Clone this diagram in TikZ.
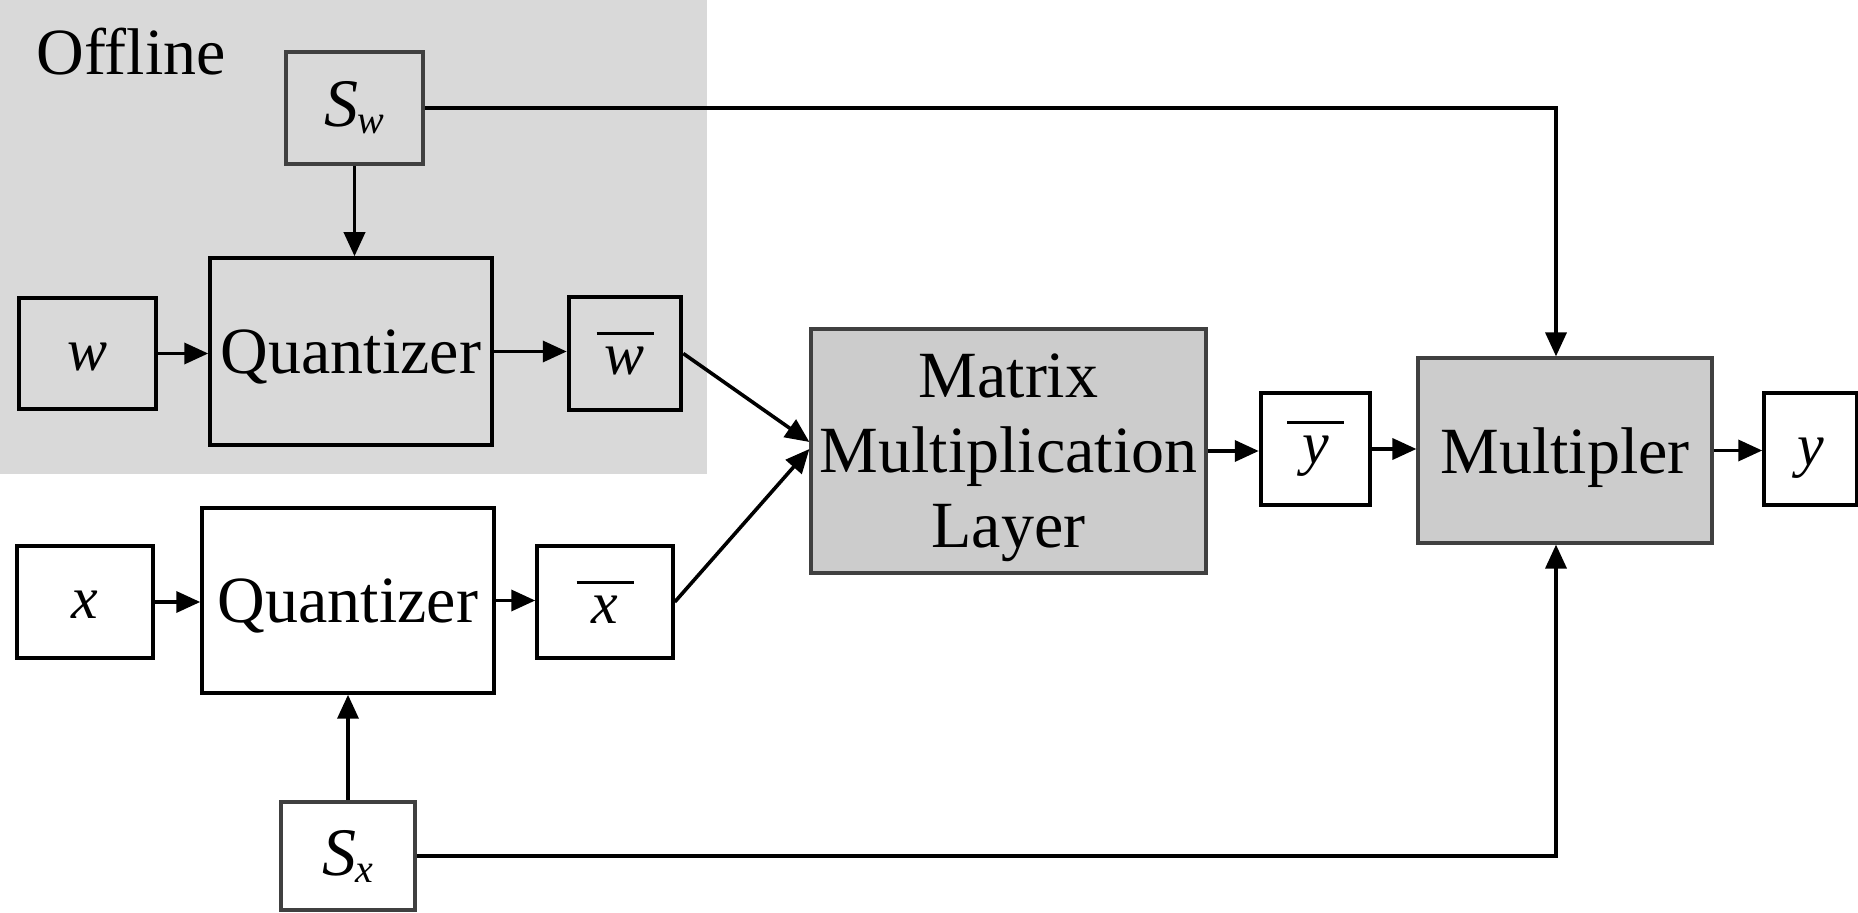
\documentclass[tikz,border=0pt]{standalone}
\usepackage{fontspec}
\setmainfont{Liberation Serif}
\usetikzlibrary{arrows.meta,calc}
\definecolor{dgray}{HTML}{404040}
\definecolor{procfill}{HTML}{CCCCCC}
\definecolor{offbg}{HTML}{D9D9D9}
\newcommand\barred[1]{\vbox{\hrule width 28.5pt height 1.5pt\kern 6pt\hbox to 28.5pt{\hss #1\hss}}}
\newcommand\scl[1]{{\fontsize{34}{36}\selectfont\itshape S\kern-0.5pt\raisebox{-3.5pt}{\fontsize{20}{20}\selectfont #1}}}
\begin{document}
\begin{tikzpicture}[x=0.5pt,y=-0.5pt,
  lbl/.style={font=\fontsize{33}{37.5}\selectfont,text depth=0pt},
  var/.style={font=\fontsize{30}{36}\selectfont\itshape},
  single/.style={text height=16.8pt,text depth=0pt},
  blk/.style={draw=black,line width=1.75pt,inner sep=0pt},
  blkthick/.style={draw=black,line width=2.25pt,inner sep=0pt},
  gblk/.style={draw=dgray,line width=2.25pt,inner sep=0pt},
  proc/.style={draw=dgray,line width=1.6pt,fill=procfill,inner sep=0pt,align=center},
  arr/.style={line width=1.8pt,-{Triangle[length=12pt,width=10.5pt]}},
]
\useasboundingbox (0,0) rectangle (1858,913);
\fill[offbg] (0,0) rectangle (707,474);
\node[lbl,anchor=base west,inner sep=0pt] (off) at (36,75) {Offline};

% boxes
\node[gblk,minimum width=68.5pt,minimum height=56pt] (Sw) at (354.5,108) {\scl{w}};
\node[blk,lbl,minimum width=141pt,minimum height=93.5pt] (Qt) at (351,351.5) {Quantizer};
\node[blk,var,single,minimum width=68.5pt,minimum height=55.5pt] (w) at (87.5,353.5) {w};
\node[blkthick,var,minimum width=56pt,minimum height=56.5pt] (wb) at (625,353.5) {\barred{w}};

\node[blk,lbl,minimum width=146pt,minimum height=92.5pt] (Qb) at (348,600.5) {Quantizer};
\node[blk,var,single,minimum width=68pt,minimum height=56pt] (x) at (85,602) {x};
\node[blk,var,minimum width=68pt,minimum height=56pt] (xb) at (605,602) {\barred{x}};
\node[gblk,minimum width=67pt,minimum height=54pt] (Sx) at (348,856) {\scl{x}};

\node[proc,lbl,minimum width=197.5pt,minimum height=122pt] (Mat) at (1008.5,451) {Matrix\\Multiplication\\Layer};
\node[blkthick,var,minimum width=54.5pt,minimum height=56pt] (yb) at (1315.5,449) {\barred{y}};
\node[proc,lbl,minimum width=147pt,minimum height=92.5pt] (Mul) at (1565,450.5) {Multipler};
\node[blk,var,single,minimum width=46.5pt,minimum height=56pt] (y) at (1810.5,449) {y};

% connectors
\draw[arr] (Sw.south) -- (Sw.south |- Qt.north);
\draw[arr] (w) -- (w -| Qt.west);
\draw[arr] (Qt.east) -- (Qt.east -| wb.west);
\draw[arr] (x) -- (x -| Qb.west);
\draw[arr] (Qb.east) -- (Qb.east -| xb.west);
\draw[arr] (Sx.north) -- (Sx.north |- Qb.south);
\draw[arr] (wb.east) -- ($(Mat.west)+(0,-9)$);
\draw[arr] (xb.east) -- ($(Mat.west)+(0,-2)$);
\draw[arr] (Mat.east) -- (Mat.east -| yb.west);
\draw[arr] (yb) -- (yb -| Mul.west);
\draw[arr] (Mul) -- (Mul -| y.west);
\coordinate (mt) at ($(Mul.north)+(-9,0)$);
\coordinate (mb) at ($(Mul.south)+(-9,0)$);
\draw[arr] (Sw.east) -| (mt);
\draw[arr] (Sx.east) -| (mb);
\end{tikzpicture}
\end{document}
